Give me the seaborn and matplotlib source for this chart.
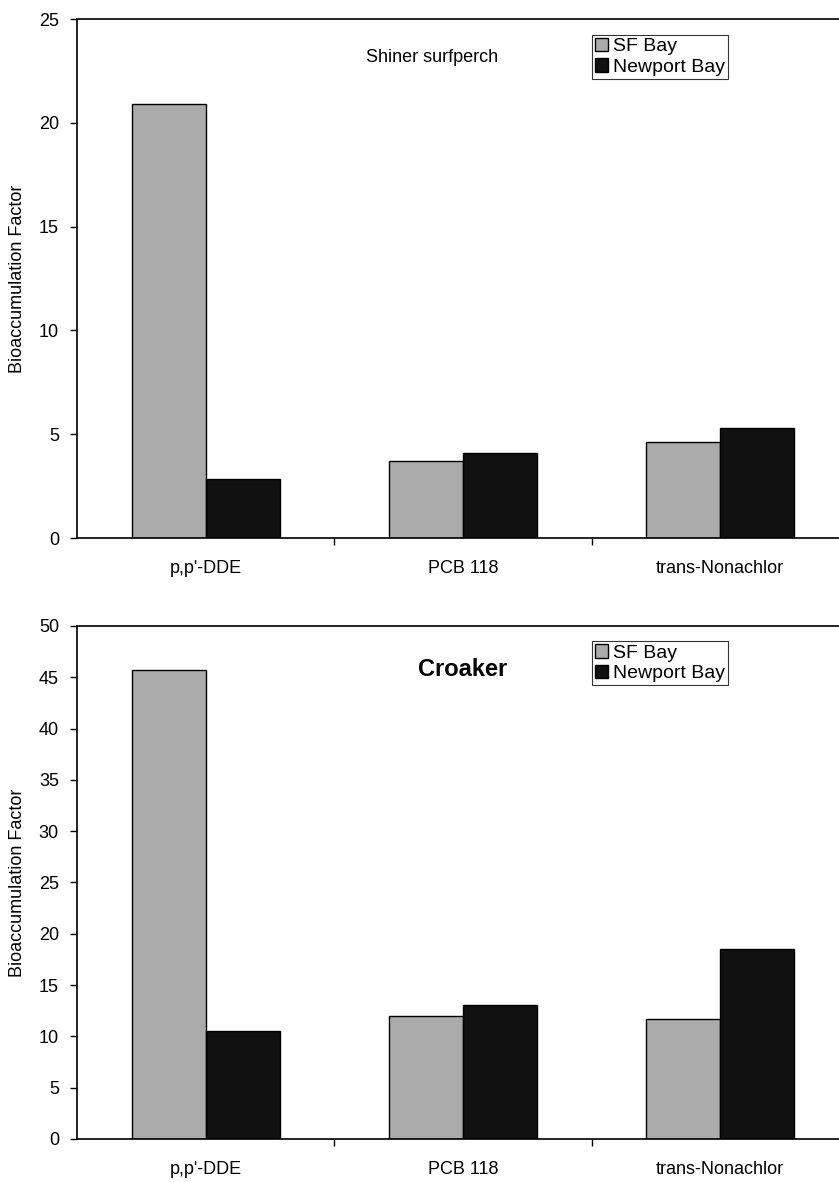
import pandas as pd
import numpy as np
import matplotlib
matplotlib.use('Agg')
import matplotlib.pyplot as plt
import seaborn as sns

compounds = ["p,p'-DDE", "PCB 118", "trans-Nonachlor"]
sites = ["SF Bay", "Newport Bay"]
shiner_sf = [20.9, 3.7, 4.65]
shiner_nb = [2.85, 4.1, 5.3]
croaker_sf = [45.7, 12.0, 11.7]
croaker_nb = [10.55, 13.05, 18.5]

def long_df(sf, nb):
    return pd.DataFrame({
        'Compound': compounds * 2,
        'Site': [sites[0]] * 3 + [sites[1]] * 3,
        'BAF': list(sf) + list(nb),
    })

sns.set_style('white', {'text.color': 'black', 'axes.labelcolor': 'black',
                        'xtick.color': 'black', 'ytick.color': 'black'})
plt.rcParams['font.family'] = ['Liberation Sans', 'DejaVu Sans']

fig = plt.figure(figsize=(8.39, 11.82), dpi=100)
ax1 = fig.add_axes([0.0918, 0.5448, 0.920, 0.4391])
ax2 = fig.add_axes([0.0918, 0.0364, 0.920, 0.4340])

palette = {'SF Bay': '#ababab', 'Newport Bay': '#111111'}

panels = [
    (ax1, long_df(shiner_sf, shiner_nb), 25, 'Shiner surfperch', dict(fontsize=13), 0.925, 0.46),
    (ax2, long_df(croaker_sf, croaker_nb), 50, 'Croaker', dict(fontsize=17, fontweight='bold'), 0.915, 0.50),
]

for ax, df, ymax, title, tkw, ty, tx in panels:
    sns.barplot(data=df, x='Compound', y='BAF', hue='Site', palette=palette,
                width=0.576, edgecolor='black', linewidth=1.0, ax=ax)
    ax.set_ylim(0, ymax)
    ax.set_xlim(-0.5, 2.5)
    ax.set_yticks(np.arange(0, ymax + 1, 5))
    ax.set_xlabel('')
    ax.set_ylabel('Bioaccumulation Factor', fontsize=13)
    ax.yaxis.set_label_coords(-0.066, 0.5)
    ax.tick_params(axis='y', which='major', direction='out', length=5, width=1,
                   left=True, labelsize=13, pad=8)
    ax.tick_params(axis='x', which='major', length=0, labelsize=13, pad=16)
    ax.set_xticks([0.5, 1.5], minor=True)
    ax.tick_params(axis='x', which='minor', direction='out', length=5, width=1, bottom=True)
    for s in ['left', 'bottom', 'top']:
        ax.spines[s].set_visible(True)
        ax.spines[s].set_color('black')
        ax.spines[s].set_linewidth(1.2)
    ax.spines['right'].set_visible(False)
    ax.text(tx, ty, title, transform=ax.transAxes, ha='center', va='center', **tkw)
    leg = ax.legend(loc='upper left', bbox_to_anchor=(0.667, 0.97), frameon=True,
                    fancybox=False, edgecolor='black', fontsize=14,
                    handlelength=0.7, handleheight=0.7, handletextpad=0.25,
                    borderpad=0.15, labelspacing=0.15, borderaxespad=0)
    leg.get_frame().set_linewidth(0.8)

plt.savefig("out.png", dpi=100)
plt.close()
